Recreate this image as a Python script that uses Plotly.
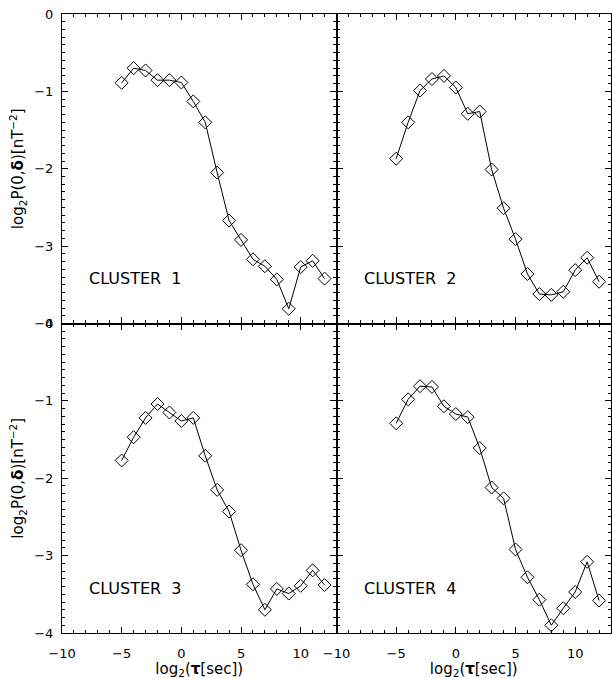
import plotly.graph_objects as go

# x values: log2(tau[sec])
log2_tau = [-5, -4, -3, -2, -1, 0, 1, 2, 3, 4, 5, 6, 7, 8, 9, 10, 11, 12]

cluster1 = [-0.89, -0.70, -0.73, -0.855, -0.855, -0.885, -1.13, -1.40, -2.05, -2.67,
            -2.92, -3.17, -3.26, -3.43, -3.81, -3.27, -3.19, -3.42]
cluster2 = [-1.87, -1.40, -0.99, -0.84, -0.80, -0.95, -1.29, -1.26, -2.01, -2.51,
            -2.91, -3.36, -3.62, -3.63, -3.59, -3.31, -3.15, -3.46]
cluster3 = [-1.77, -1.47, -1.22, -1.04, -1.15, -1.26, -1.22, -1.71, -2.15, -2.43,
            -2.93, -3.37, -3.70, -3.43, -3.49, -3.39, -3.19, -3.38]
cluster4 = [-1.29, -0.98, -0.81, -0.82, -1.07, -1.17, -1.21, -1.61, -2.12, -2.26,
            -2.92, -3.28, -3.57, -3.90, -3.68, -3.47, -3.08, -3.58]

cluster_names = ["CLUSTER\u00a0\u00a01", "CLUSTER\u00a0\u00a02",
                 "CLUSTER\u00a0\u00a03", "CLUSTER\u00a0\u00a04"]
series = [cluster1, cluster2, cluster3, cluster4]

x_tickvals = [-10, -5, 0, 5, 10]
x_ticktext = ["\u221210", "\u22125", "0", "5", "10"]
y_tickvals = [0, -1, -2, -3, -4]
y_ticktext = ["0", "\u22121", "\u22122", "\u22123", "\u22124"]

FONT = "DejaVu Sans, Liberation Sans, sans-serif"

fig = go.Figure()

panels = [
    ("x", "y", [0.0, 0.5], [0.5, 1.0]),
    ("x2", "y2", [0.5, 1.0], [0.5, 1.0]),
    ("x3", "y3", [0.0, 0.5], [0.0, 0.5]),
    ("x4", "y4", [0.5, 1.0], [0.0, 0.5]),
]

for i, (xa, ya, xd, yd) in enumerate(panels):
    fig.add_trace(go.Scatter(
        x=log2_tau, y=series[i], mode="lines+markers",
        xaxis=xa, yaxis=ya,
        line=dict(color="black", width=1),
        marker=dict(symbol="diamond-open", size=10,
                    color="black", line=dict(color="black", width=1)),
        showlegend=False,
    ))
    fig.add_annotation(
        x=-7.9, y=-3.42, xref=xa, yref=ya, text=cluster_names[i],
        showarrow=False, xanchor="left", yanchor="middle",
        font=dict(family=FONT, size=16, color="black"),
    )

    bottom = yd[0] == 0.0
    left = xd[0] == 0.0
    xkey = "xaxis" if xa == "x" else "xaxis" + xa[1:]
    ykey = "yaxis" if ya == "y" else "yaxis" + ya[1:]
    xaxis = dict(
        domain=xd, anchor=ya, range=[-10, 13],
        tickvals=x_tickvals, ticktext=x_ticktext,
        showticklabels=bottom, ticklabelstandoff=8,
        ticks="inside", ticklen=6, tickwidth=1, tickcolor="black",
        minor=dict(dtick=1, tick0=0, ticks="inside", ticklen=3,
                   tickwidth=1, tickcolor="black", showgrid=False),
        showline=True, linecolor="black", linewidth=1.2, mirror="ticks",
        showgrid=False, zeroline=False,
        tickfont=dict(family=FONT, size=13, color="black"),
    )
    if bottom:
        xaxis["title"] = dict(
            text="log<sub>2</sub>(<b>\u03c4</b>[sec])",
            font=dict(family=FONT, size=15, color="black"), standoff=2)
    yaxis = dict(
        domain=yd, anchor=xa, range=[-4, 0],
        tickvals=y_tickvals, ticktext=y_ticktext,
        showticklabels=left, ticklabelstandoff=5,
        ticks="inside", ticklen=6, tickwidth=1, tickcolor="black",
        minor=dict(dtick=0.1, tick0=0, ticks="inside", ticklen=3,
                   tickwidth=1, tickcolor="black", showgrid=False),
        showline=True, linecolor="black", linewidth=1.2, mirror="ticks",
        showgrid=False, zeroline=False,
        tickfont=dict(family=FONT, size=13, color="black"),
    )
    if left:
        yaxis["title"] = dict(
            text="log<sub>2</sub>P(0,<b>\u03b4</b>)[nT<sup>\u22122</sup>]",
            font=dict(family=FONT, size=15, color="black"), standoff=6)
    fig.update_layout({xkey: xaxis, ykey: yaxis})

fig.update_layout(
    width=612, height=679,
    margin=dict(l=62, r=1, t=14, b=46),
    paper_bgcolor="white", plot_bgcolor="white",
    font=dict(family=FONT, color="black"),
)

fig.write_html(
    "out.html",
    config={"displayModeBar": False},
    post_script="document.body.style.margin='0';document.body.style.overflow='hidden';",
)
